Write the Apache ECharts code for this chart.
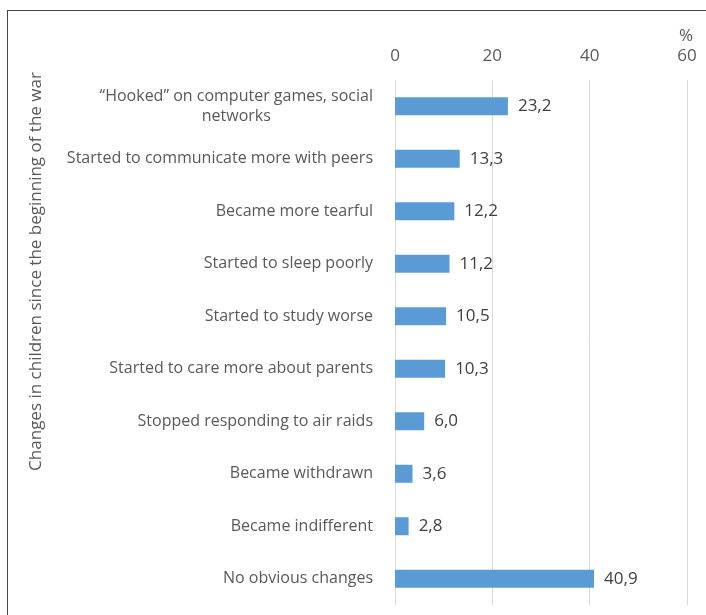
<!DOCTYPE html>
<html lang="en">
<head>
    <meta charset="UTF-8">
    <title>Changes in children</title>
    <script src="https://cdn.jsdelivr.net/npm/echarts@6/dist/echarts.min.js"></script>
    <style>
        html, body { margin: 0; padding: 0; background: #fff; }
        #chart { width: 706px; height: 615px; }
        .frame {
            position: absolute;
            left: 7px; top: 10px;
            width: 720px; height: 620px;
            border-left: 1px solid #444;
            border-top: 1px solid #444;
            pointer-events: none;
        }
    </style>
</head>
<body>
    <div id="chart"></div>
    <div class="frame"></div>
    <script>
        // Data
        var categories = [
            '“Hooked” on computer games, social\nnetworks',
            'Started to communicate more with peers',
            'Became more tearful',
            'Started to sleep poorly',
            'Started to study worse',
            'Started to care more about parents',
            'Stopped responding to air raids',
            'Became withdrawn',
            'Became indifferent',
            'No obvious changes'
        ];
        var values = [23.2, 13.3, 12.2, 11.2, 10.5, 10.3, 6.0, 3.6, 2.8, 40.9];
        var xTicks = [0, 20, 40, 60];

        var font = 'Open Sans';
        var chart = echarts.init(document.getElementById('chart'));

        var option = {
            animation: false,
            title: {
                text: '%',
                left: 674,
                top: 23,
                textStyle: { color: '#595959', fontSize: 17, fontWeight: 'normal', fontFamily: font }
            },
            grid: { left: 395, right: 19, top: 80, bottom: 10 },
            xAxis: {
                type: 'value',
                position: 'top',
                min: xTicks[0],
                max: xTicks[xTicks.length - 1],
                interval: 20,
                axisLine: { show: false },
                axisTick: { show: false },
                axisLabel: { color: '#595959', fontSize: 17, fontFamily: font, margin: 15 },
                splitLine: { lineStyle: { color: '#d9d9d9', width: 1 } }
            },
            yAxis: {
                type: 'category',
                inverse: true,
                data: categories,
                name: 'Changes in children since the beginning of the war',
                nameLocation: 'middle',
                nameGap: 350,
                nameTextStyle: { color: '#595959', fontSize: 17, fontFamily: font, padding: [0, 0, 0, 142] },
                axisLine: { show: false },
                axisTick: { show: false },
                axisLabel: {
                    margin: 22,
                    color: '#595959',
                    fontSize: 16,
                    fontFamily: font,
                    formatter: function (v) {
                        return v.split('\n').map(function (s) { return '{c|' + s + '}'; }).join('\n');
                    },
                    rich: { c: { align: 'center', color: '#595959', fontSize: 16, fontFamily: font, lineHeight: 20 } }
                }
            },
            series: [{
                type: 'bar',
                data: values,
                barWidth: 18,
                itemStyle: { color: '#5b9bd5' },
                label: {
                    show: true,
                    position: 'right',
                    distance: 10,
                    color: '#404040',
                    fontSize: 17,
                    fontFamily: font,
                    formatter: function (p) { return p.value.toFixed(1).replace('.', ','); }
                }
            }]
        };

        chart.setOption(option);
    </script>
</body>
</html>
